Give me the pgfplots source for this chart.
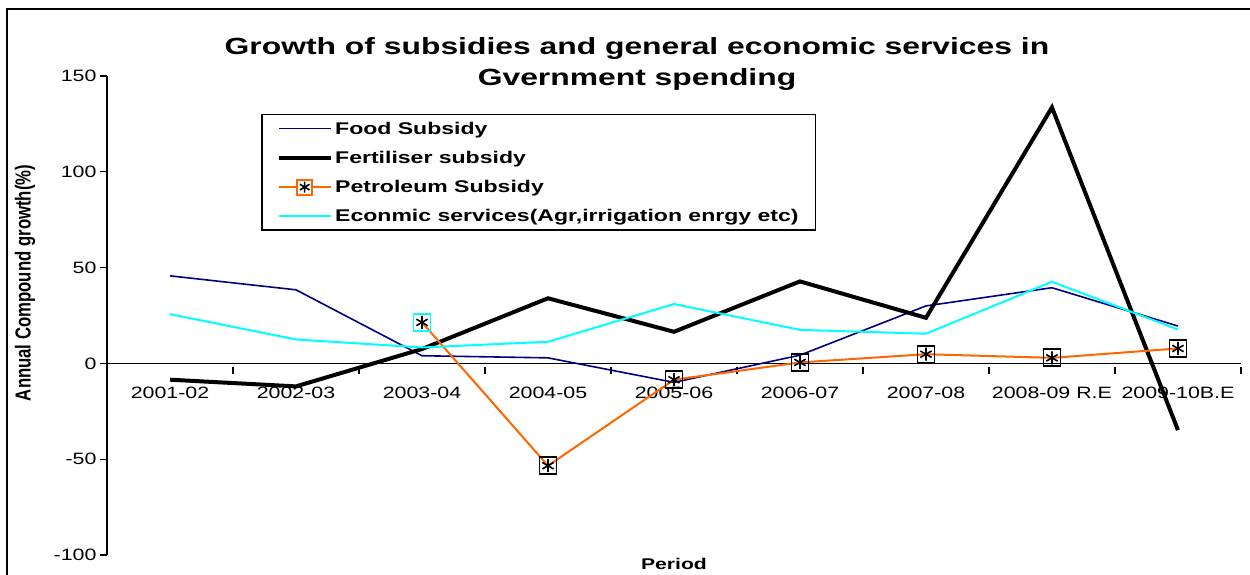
\documentclass[border=0pt]{standalone}
\usepackage{fontspec}
\setmainfont{Liberation Sans}[FakeStretch=1.3]
\newfontfamily\tf{Liberation Sans}[FakeStretch=1.36]
\newfontfamily\yf{Liberation Sans}
\usepackage{pgfplots}
\pgfplotsset{compat=1.18}
\definecolor{navyc}{RGB}{0,0,128}
\definecolor{cyanc}{RGB}{0,255,255}
\definecolor{orangec}{RGB}{255,102,0}
\begin{document}
\begin{tikzpicture}[x=1bp,y=1bp]
\useasboundingbox (0,-575) rectangle (1250,0);
\draw[line width=2bp] (7,-576) -- (7,-9) -- (1251,-9);
\begin{axis}[
  at={(107bp,-555bp)}, anchor=south west,
  scale only axis, width=1134bp, height=479bp,
  xmin=-0.5, xmax=8.5, ymin=-100, ymax=150,
  axis x line*=middle, axis y line*=left,
  axis line style={line width=1.5bp},
  xtick={0.5,1.5,...,8.5},
  xticklabels={2001-02,2002-03,2003-04,2004-05,2005-06,2006-07,2007-08,2008-09 R.E,2009-10B.E},
  xticklabel style={anchor=base, xshift=-63bp, yshift=-28bp},
  x tick style={line width=1.2bp, black, yshift=-3.5bp},
  ytick={-100,-50,0,50,100,150},
  yticklabels={-100,-50,0,50,100,150},
  y tick style={line width=1.2bp, black},
  major tick length=7bp, tick align=outside,
  tick label style={font=\fontsize{16.5}{20}\selectfont},
  clip=false,
  legend cell align=left,
  legend style={at={(0.1362,0.9207)}, anchor=north west, draw=black, line width=1.5bp, fill=white,
    font=\tf\bfseries\fontsize{17}{20}\selectfont, inner xsep=15bp, inner ysep=5bp, row sep=11.5bp},
]
\addplot[navyc, line width=1.6bp,
  legend image code/.code={\draw[navyc, line width=1.6bp] (2bp,0bp) -- (54bp,0bp);}]
  coordinates {(0,45.7)(1,38.4)(2,4.0)(3,2.9)(4,-9.9)(5,4.3)(6,30)(7,39.5)(8,19.5)};
\addlegendentry{Food Subsidy}
\addplot[black, line width=4bp,
  legend image code/.code={\draw[black, line width=4bp] (2bp,0bp) -- (54bp,0bp);}]
  coordinates {(0,-8.5)(1,-12)(2,7.5)(3,34)(4,16.5)(5,42.8)(6,23.8)(7,133.6)(8,-34.8)};
\addlegendentry{Fertiliser subsidy}
\addplot[orangec, line width=2bp,
  legend image code/.code={
    \draw[orangec, line width=2bp] (2bp,0bp) -- (54bp,0bp);
    \draw[orangec, line width=1.8bp, fill=white] (20bp,-7.5bp) rectangle (35bp,7.5bp);
    \draw[black, line width=1.6bp] (27.5bp,-5.5bp) -- (27.5bp,5.5bp) (22.7bp,-2.8bp) -- (32.3bp,2.8bp) (22.7bp,2.8bp) -- (32.3bp,-2.8bp);}]
  coordinates {(2,21.4)(3,-53.4)(4,-8.5)(5,0.5)(6,4.8)(7,2.9)(8,7.8)};
\addlegendentry{Petroleum Subsidy}
\addplot[only marks, mark=square, mark size=8.5bp, mark options={black, line width=1.8bp}, forget plot]
  coordinates {(3,-53.4)(4,-8.5)(5,0.5)(6,4.8)(7,2.9)(8,7.8)};
\addplot[only marks, mark=square, mark size=8.5bp, mark options={cyanc, line width=1.8bp}, forget plot]
  coordinates {(2,21.4)};
\addplot[only marks, mark=asterisk, mark size=6.5bp, mark options={black, line width=1.6bp}, forget plot]
  coordinates {(2,21.4)(3,-53.4)(4,-8.5)(5,0.5)(6,4.8)(7,2.9)(8,7.8)};
\addplot[cyanc, line width=2bp,
  legend image code/.code={\draw[cyanc, line width=2bp] (2bp,0bp) -- (54bp,0bp);}]
  coordinates {(0,25.7)(1,12.5)(2,8.3)(3,11.3)(4,31)(5,17.5)(6,15.5)(7,42.6)(8,17.7)};
\addlegendentry{Econmic services(Agr,irrigation enrgy etc)}
\end{axis}
\node[anchor=base, font=\tf\bfseries\fontsize{23.5}{28}\selectfont] at (637,-55) {Growth of subsidies and general economic services in};
\node[anchor=base, font=\tf\bfseries\fontsize{23.5}{28}\selectfont] at (637,-86) {Gvernment spending};
\node[anchor=base, font=\tf\bfseries\fontsize{15.6}{18}\selectfont] at (674,-569) {Period};
\node[rotate=90, font=\yf\bfseries\fontsize{16.8}{20}\selectfont] at (25,-283) {\scalebox{1}[1.3]{Annual Compound growth(\%)}};
\end{tikzpicture}
\end{document}
